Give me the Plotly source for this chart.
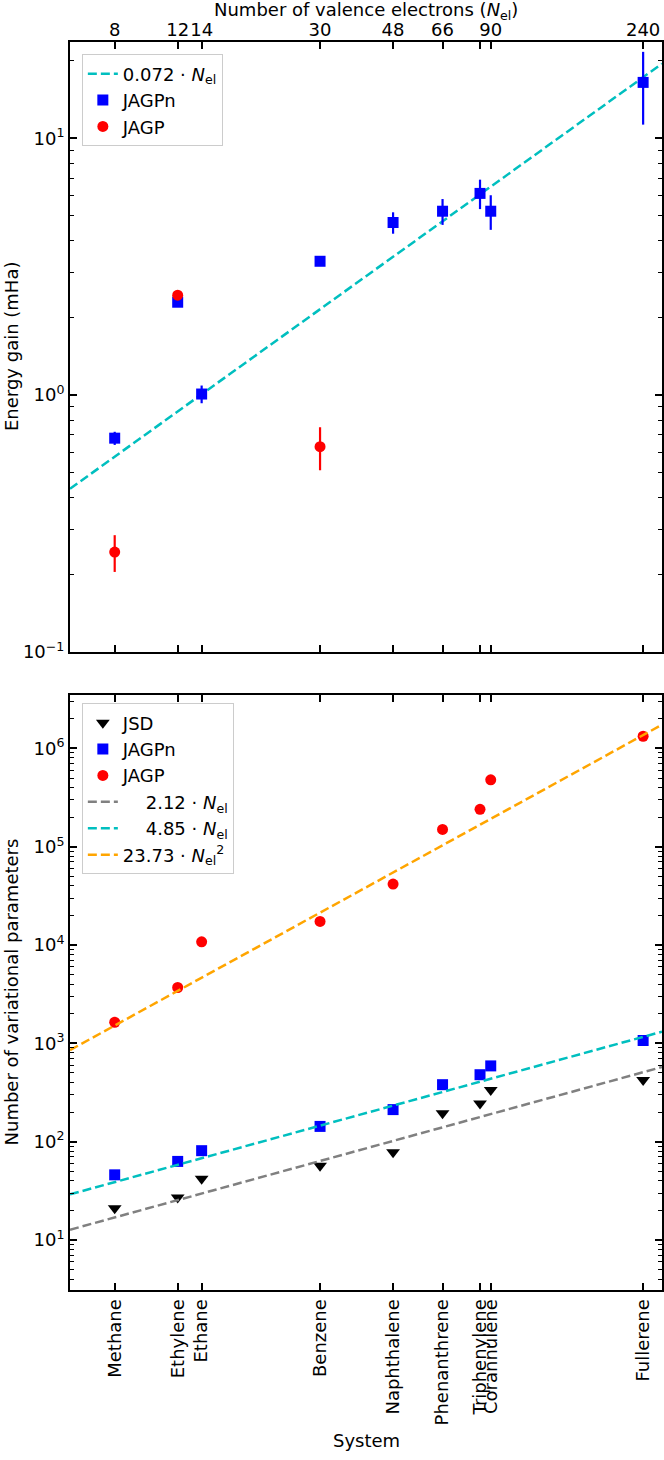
import plotly.graph_objects as go
import math

# ---------------- data ----------------
systems = ["Methane", "Ethylene", "Ethane", "Benzene", "Naphthalene",
           "Phenanthrene", "Triphenylene", "Corannulene", "Fullerene"]
n_el = [8, 12, 14, 30, 48, 66, 84, 90, 240]
top_tick_vals = [8, 12, 14, 30, 48, 66, 84, 90, 240]
top_tick_text = ["8", "12", "14", "30", "48", "66", "", "90", "240"]

# top panel: energy gain (mHa)
jagpn_gain = [0.68, 2.3, 1.01, 3.32, 4.7, 5.2, 6.1, 5.2, 16.5]
jagpn_err = [0.04, 0.05, 0.08, 0.06, 0.45, 0.6, 0.8, 0.8, 5.2]
jagp_n = [8, 12, 30]
jagp_gain = [0.245, 2.45, 0.63]
jagp_err = [0.04, 0.05, 0.12]
gain_coef = 0.072

# bottom panel: number of variational parameters
jsd_par = [21, 27, 42, 57, 78, 195, 245, 335, 425]
jagpn_par = [46, 63, 81, 143, 212, 380, 480, 590, 1070]
jagp_par = [1640, 3700, 10800, 17400, 41700, 150000, 240000, 480000, 1330000]
coef_jsd = 2.12
coef_jagpn = 4.85
coef_jagp = 23.73

x_lim = [6.0, 271.0]
y_lim_top = [0.1, 23.7]
y_lim_bot = [3.1, 3.5e6]

# ---------------- styling ----------------
FONT = "DejaVu Sans"
FS = 18
BLUE, RED, BLACK = "#0000ff", "#ff0000", "#000000"
CYAN, ORANGE, GRAY = "#00bfbf", "#ffa500", "#808080"
DASH = "9px,4px"
NEL = "<i>N</i><sub>el</sub>"


def minor_vals(lo, hi):
    out = []
    e = math.floor(math.log10(lo))
    while 10 ** e <= hi:
        for m in range(2, 10):
            v = m * 10 ** e
            if lo <= v <= hi:
                out.append(v)
        e += 1
    return out


fig = go.Figure()

# ---- top panel ----
fig.add_trace(go.Scatter(
    x=x_lim, y=[gain_coef * v for v in x_lim], mode="lines",
    line=dict(color=CYAN, width=2.5, dash=DASH),
    name=f"0.072 · {NEL}", xaxis="x", yaxis="y", legend="legend"))
fig.add_trace(go.Scatter(
    x=n_el, y=jagpn_gain, mode="markers",
    marker=dict(symbol="square", size=11, color=BLUE),
    error_y=dict(type="data", array=jagpn_err, color=BLUE, thickness=2.2, width=0),
    name="JAGPn", xaxis="x", yaxis="y", legend="legend"))
fig.add_trace(go.Scatter(
    x=jagp_n, y=jagp_gain, mode="markers",
    marker=dict(symbol="circle", size=11, color=RED),
    error_y=dict(type="data", array=jagp_err, color=RED, thickness=2.2, width=0),
    name="JAGP", xaxis="x", yaxis="y", legend="legend"))

# ---- bottom panel ----
fig.add_trace(go.Scatter(
    x=n_el, y=jsd_par, mode="markers",
    marker=dict(symbol="triangle-down", size=12, color=BLACK),
    name="JSD", xaxis="x2", yaxis="y2", legend="legend2"))
fig.add_trace(go.Scatter(
    x=n_el, y=jagpn_par, mode="markers",
    marker=dict(symbol="square", size=11, color=BLUE),
    name="JAGPn", xaxis="x2", yaxis="y2", legend="legend2"))
fig.add_trace(go.Scatter(
    x=n_el, y=jagp_par, mode="markers",
    marker=dict(symbol="circle", size=11, color=RED),
    name="JAGP", xaxis="x2", yaxis="y2", legend="legend2"))
fig.add_trace(go.Scatter(
    x=x_lim, y=[coef_jsd * v for v in x_lim], mode="lines",
    line=dict(color=GRAY, width=2.5, dash=DASH),
    name=f"\u2007\u20072.12 · {NEL}", xaxis="x2", yaxis="y2", legend="legend2"))
fig.add_trace(go.Scatter(
    x=x_lim, y=[coef_jagpn * v for v in x_lim], mode="lines",
    line=dict(color=CYAN, width=2.5, dash=DASH),
    name=f"\u2007\u20074.85 · {NEL}", xaxis="x2", yaxis="y2", legend="legend2"))
fig.add_trace(go.Scatter(
    x=x_lim, y=[coef_jagp * v * v for v in x_lim], mode="lines",
    line=dict(color=ORANGE, width=2.5, dash=DASH),
    name=f"23.73 · {NEL}<sup>2</sup>", xaxis="x2", yaxis="y2", legend="legend2"))

# ---- axes ----
frame = dict(showline=True, linecolor="black", linewidth=2, mirror="ticks",
             ticks="inside", ticklen=7, tickwidth=1.5, tickcolor="black",
             showgrid=False, zeroline=False, automargin=False,
             tickfont=dict(family=FONT, size=FS, color="black"))
lx = [math.log10(v) for v in x_lim]

top_dom = [0.5112, 1.0]
bot_dom = [0.0, 0.4768]

fig.update_layout(
    xaxis=dict(frame, type="log", range=lx, domain=[0, 1], anchor="y", side="top",
               tickangle=0, ticklabelstandoff=-3,
               tickmode="array", tickvals=top_tick_vals, ticktext=top_tick_text),
    yaxis=dict(frame, type="log", domain=top_dom, anchor="x",
               range=[math.log10(v) for v in y_lim_top],
               tickmode="array", tickvals=[0.1, 1, 10],
               ticktext=["10<sup>−1</sup>", "10<sup>0</sup>", "10<sup>1</sup>"],
               minor=dict(tickmode="array", tickvals=minor_vals(*y_lim_top), ticks="inside",
                          ticklen=4, tickwidth=1.2, tickcolor="black")),
    xaxis2=dict(frame, type="log", range=lx, domain=[0, 1], anchor="y2", side="bottom",
                tickmode="array", tickvals=n_el, ticktext=systems, tickangle=-90),
    xaxis3=dict(frame, type="log", range=lx, overlaying="x2", anchor="y2", side="top",
                showline=False, ticks="", tickangle=0, ticklabelstandoff=-8,
                tickmode="array", tickvals=top_tick_vals, ticktext=top_tick_text),
    yaxis2=dict(frame, type="log", domain=bot_dom, anchor="x2",
                range=[math.log10(v) for v in y_lim_bot],
                tickmode="array", tickvals=[10, 100, 1e3, 1e4, 1e5, 1e6],
                ticktext=["10<sup>1</sup>", "10<sup>2</sup>", "10<sup>3</sup>",
                          "10<sup>4</sup>", "10<sup>5</sup>", "10<sup>6</sup>"],
                minor=dict(tickmode="array", tickvals=minor_vals(*y_lim_bot), ticks="inside",
                           ticklen=4, tickwidth=1.2, tickcolor="black")),
    width=664, height=1460,
    margin=dict(l=70, r=2, t=42, b=170, autoexpand=False),
    paper_bgcolor="white", plot_bgcolor="white",
    font=dict(family=FONT, size=FS, color="black"),
    legend=dict(x=0.02, y=0.99, xanchor="left", yanchor="top",
                bgcolor="rgba(255,255,255,0.85)", bordercolor="#cccccc", borderwidth=1,
                font=dict(family=FONT, size=FS), tracegroupgap=0),
    legend2=dict(x=0.02, y=0.47, xanchor="left", yanchor="top",
                 bgcolor="rgba(255,255,255,0.85)", bordercolor="#cccccc", borderwidth=1,
                 font=dict(family=FONT, size=FS), tracegroupgap=0),
    showlegend=True,
)

fig.add_annotation(text=f"Number of valence electrons ({NEL})", xref="paper", yref="paper",
                   x=0.5, y=1, yshift=31, showarrow=False, font=dict(size=FS),
                   xanchor="center", yanchor="middle")
fig.add_annotation(text="Energy gain (mHa)", xref="paper", yref="paper",
                   x=0, y=(top_dom[0] + top_dom[1]) / 2, xshift=-59, textangle=-90,
                   showarrow=False, font=dict(size=FS), xanchor="center", yanchor="middle")
fig.add_annotation(text="Number of variational parameters", xref="paper", yref="paper",
                   x=0, y=(bot_dom[0] + bot_dom[1]) / 2, xshift=-59, textangle=-90,
                   showarrow=False, font=dict(size=FS), xanchor="center", yanchor="middle")
fig.add_annotation(text="System", xref="paper", yref="paper",
                   x=0.5, y=0, yshift=-150, showarrow=False, font=dict(size=FS),
                   xanchor="center", yanchor="middle")

# the page body has a default 8px margin; remove it so the figure fills the window exactly
fig.write_html("out.html", config={"displayModeBar": False},
               post_script="document.body.style.margin='0px';")
